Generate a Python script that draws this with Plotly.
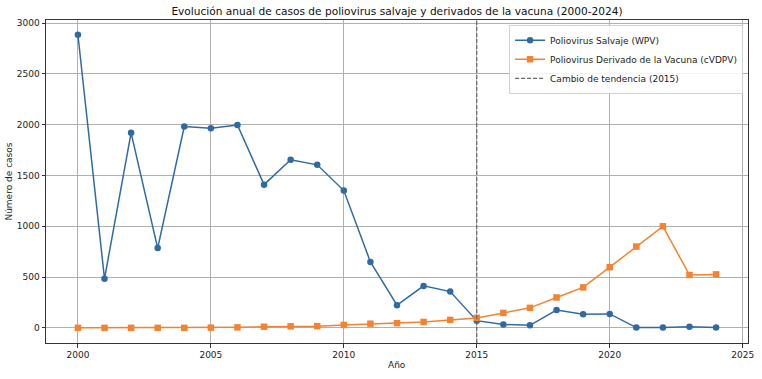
import plotly.graph_objects as go

years = list(range(2000, 2025))
wpv = [2885, 484, 1920, 786, 1982, 1965, 1997, 1410, 1655, 1605, 1352, 650, 224, 414, 358, 72, 35, 26, 176, 136, 138, 4, 4, 11, 4]
cvdpv = [1, 1, 1, 1, 1, 3, 6, 12, 16, 18, 30, 42, 47, 59, 79, 99, 148, 198, 300, 399, 598, 801, 1000, 521, 527]
trend_year = 2015
xticks = [2000, 2005, 2010, 2015, 2020, 2025]
yticks = [0, 500, 1000, 1500, 2000, 2500, 3000]

BLUE = "#2f6aa5"
ORANGE = "#f5822f"
FONT = "DejaVu Sans"

fig = go.Figure()
fig.add_trace(go.Scatter(
    x=years, y=wpv, mode="lines+markers", name="Poliovirus Salvaje (WPV)",
    line=dict(color=BLUE, width=1.5), marker=dict(symbol="circle", size=6.5, color=BLUE)))
fig.add_trace(go.Scatter(
    x=years, y=cvdpv, mode="lines+markers", name="Poliovirus Derivado de la Vacuna (cVDPV)",
    line=dict(color=ORANGE, width=1.5), marker=dict(symbol="square", size=6.5, color=ORANGE)))
fig.add_trace(go.Scatter(
    x=[trend_year, trend_year], y=[-148, 3030], mode="lines", name="Cambio de tendencia (2015)",
    line=dict(color="#666666", width=1.2, dash="4px,2px")))

fig.update_layout(
    width=762, height=379,
    margin=dict(l=46, r=14, t=20, b=36),
    paper_bgcolor="white", plot_bgcolor="white",
    font=dict(family=FONT, size=9, color="#222222"),
    title=dict(text="Evolución anual de casos de poliovirus salvaje y derivados de la vacuna (2000-2024)",
               x=0.521, xanchor="center", y=0.971, yanchor="middle",
               font=dict(family=FONT, size=10.6, color="#111111")),
    legend=dict(x=0.993, y=0.985, xanchor="right", yanchor="top",
                bgcolor="rgba(255,255,255,0.85)", bordercolor="#d0d0d0", borderwidth=1,
                font=dict(family=FONT, size=9, color="#222222"),
                tracegroupgap=0, itemwidth=30),
    showlegend=True,
    annotations=[
        dict(text="Año", xref="paper", yref="paper", x=0.5, y=-0.068,
             xanchor="center", yanchor="middle", showarrow=False,
             font=dict(family=FONT, size=9, color="#222222")),
        dict(text="Número de casos", xref="paper", yref="paper", x=-0.054, y=0.5,
             xanchor="center", yanchor="middle", textangle=-90, showarrow=False,
             font=dict(family=FONT, size=9, color="#222222")),
    ],
)
fig.update_xaxes(
    range=[1998.8, 2025.2], tickvals=xticks, ticks="outside", ticklen=3.5, tickwidth=0.8,
    tickcolor="#333333", showline=True, linecolor="#333333", linewidth=1, mirror=True,
    showgrid=True, gridcolor="#b0b0b0", gridwidth=0.8, zeroline=False, automargin=False)
fig.update_yaxes(
    range=[-148, 3030], tickvals=yticks, ticks="outside", ticklen=3.5, tickwidth=0.8,
    tickcolor="#333333", showline=True, linecolor="#333333", linewidth=1, mirror=True,
    showgrid=True, gridcolor="#b0b0b0", gridwidth=0.8, zeroline=False, automargin=False)

fig.write_html("out.html", config={"displayModeBar": False},
               post_script="document.body.style.margin='0';document.body.style.overflow='hidden';")
